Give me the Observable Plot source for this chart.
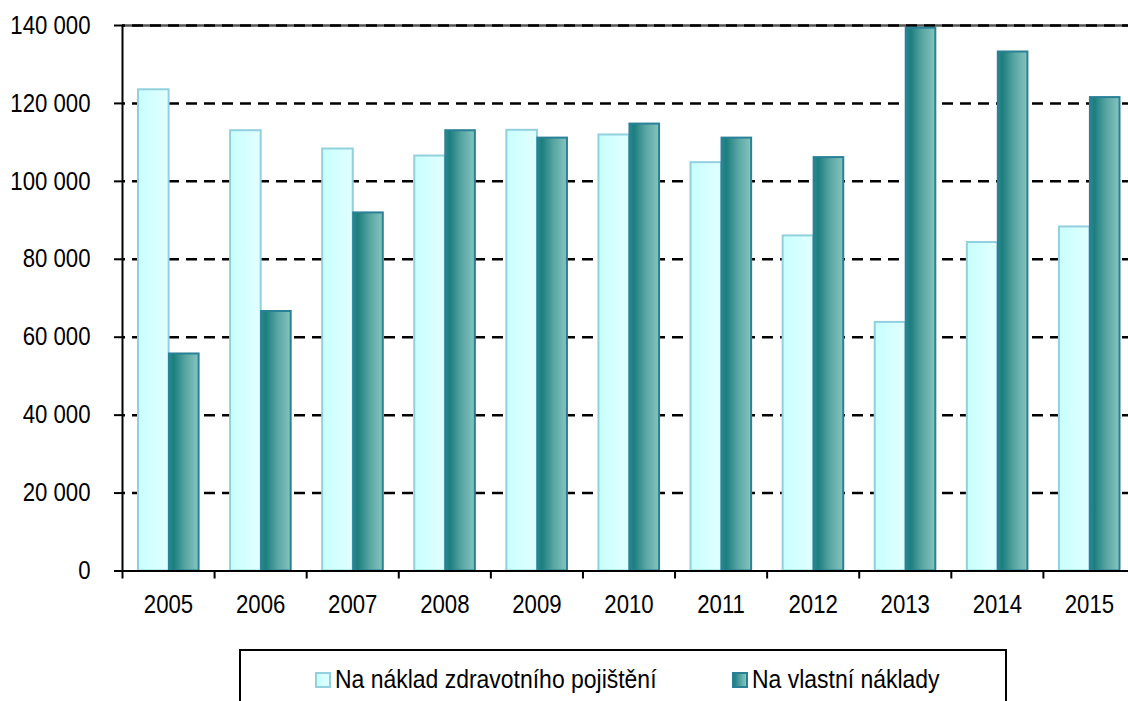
<!DOCTYPE html>
<html>
<head>
<meta charset="utf-8">
<script src="https://cdn.jsdelivr.net/npm/d3@7"></script>
<script src="https://cdn.jsdelivr.net/npm/@observablehq/plot@0.6"></script>
<style>
  html, body { margin: 0; padding: 0; background: #fff; overflow: hidden; }
  #chart svg { display: block; }
  #legend {
    position: absolute; left: 239px; top: 649px; width: 768px; height: 80px;
    border: 2px solid #000; box-sizing: border-box;
    font-family: "Liberation Sans", Arial, sans-serif;
    font-size: 25.5px; color: #000;
  }
  .item { position: absolute; top: 14px; display: flex; align-items: center; white-space: nowrap; }
  .sw { width: 12px; height: 12px; margin-right: 4px; }
  .lt { display: inline-block; transform: scaleX(0.9); transform-origin: left center; }
</style>
</head>
<body>
<div id="chart"></div>
<div id="legend">
  <div class="item" style="left:74px"><div class="sw" style="background:linear-gradient(90deg,#c8ffff,#e2ffff);border:2px solid #92d0de"></div><span class="lt" id="l1"></span></div>
  <div class="item" style="left:491px"><div class="sw" style="background:linear-gradient(90deg,#1b7f80,#86c4bf);border:2px solid #2a8197"></div><span class="lt" id="l2"></span></div>
</div>
<script>
const years = ["2005","2006","2007","2008","2009","2010","2011","2012","2013","2014","2015"];
const seriesNames = ["Na náklad zdravotního pojištění", "Na vlastní náklady"];
const insurance = [123500, 113000, 108300, 106500, 113100, 111900, 104800, 86000, 63800, 84300, 88300];
const ownCost = [55700, 66600, 91900, 113000, 111100, 114700, 111100, 106100, 139300, 133200, 121500];
const yTicks = [0, 20000, 40000, 60000, 80000, 100000, 120000, 140000];

document.getElementById("l1").textContent = seriesNames[0];
document.getElementById("l2").textContent = seriesNames[1];

const ins = years.map((y, i) => ({i, year: y, value: insurance[i]}));
const own = years.map((y, i) => ({i, year: y, value: ownCost[i]}));
const fmt = d => d3.format(",")(d).replace(/,/g, " ");

const defs = () => {
  const s = d3.create("svg:defs");
  const g1 = s.append("linearGradient").attr("id", "gLight").attr("x1", 0).attr("x2", 1).attr("y1", 0).attr("y2", 0);
  g1.append("stop").attr("offset", 0).attr("stop-color", "#c8ffff");
  g1.append("stop").attr("offset", 1).attr("stop-color", "#e2ffff");
  const g2 = s.append("linearGradient").attr("id", "gDark").attr("x1", 0).attr("x2", 1).attr("y1", 0).attr("y2", 0);
  g2.append("stop").attr("offset", 0).attr("stop-color", "#2a8a8a");
  g2.append("stop").attr("offset", 0.15).attr("stop-color", "#1b7e7e");
  g2.append("stop").attr("offset", 0.55).attr("stop-color", "#58a5a2");
  g2.append("stop").attr("offset", 1).attr("stop-color", "#86c4bf");
  return s.node();
};

const chart = Plot.plot({
  width: 1128,
  height: 640,
  marginTop: 25,
  marginBottom: 69.5,
  marginLeft: 122,
  marginRight: 0,
  style: {fontFamily: '"Liberation Sans", Arial, sans-serif', fontSize: "25.5px", color: "#000", background: "#fff", overflow: "visible"},
  x: {type: "linear", domain: [0, years.length], range: [122, 1135]},
  y: {domain: [0, 140000]},
  marks: [
    defs,
    Plot.ruleY([140000], {stroke: "#555", strokeWidth: 2.5}),
    Plot.ruleY(yTicks.filter(d => d > 0), {stroke: "#000", strokeWidth: 2.5, strokeDasharray: "11,7", strokeDashoffset: -10}),
    Plot.rectY(ins, {x1: "i", x2: d => d.i + 1, y: "value", fill: "url(#gLight)", stroke: "#92d0de", strokeWidth: 2, insetLeft: 16, insetRight: 45.5}),
    Plot.rectY(own, {x1: "i", x2: d => d.i + 1, y: "value", fill: "url(#gDark)", stroke: "#2a8197", strokeWidth: 2, insetLeft: 47, insetRight: 15.5}),
    Plot.ruleY([0], {stroke: "#000", strokeWidth: 2}),
    Plot.ruleX([0], {y1: 0, y2: 140000, stroke: "#000", strokeWidth: 2}),
    Plot.axisY({ticks: yTicks, tickFormat: fmt, tickSize: 8, tickPadding: 24, label: null, strokeWidth: 2}),
    Plot.axisX({ticks: d3.range(0, years.length + 1), tickFormat: () => "", tickSize: 8, strokeWidth: 2, label: null}),
    Plot.axisX({ticks: d3.range(years.length).map(i => i + 0.5), tickFormat: d => years[Math.floor(d)], tickSize: 0, tickPadding: 24, label: null})
  ]
});
// condense text horizontally around its anchor point
chart.querySelectorAll("text").forEach(t => {
  const tr = t.getAttribute("transform") || "";
  t.setAttribute("transform", (tr + " scale(0.87,1)").trim());
  t.querySelectorAll("tspan").forEach(s => {
    if (s.hasAttribute("x")) s.setAttribute("x", +s.getAttribute("x") / 0.87);
  });
});
document.getElementById("chart").appendChild(chart);
</script>
</body>
</html>
